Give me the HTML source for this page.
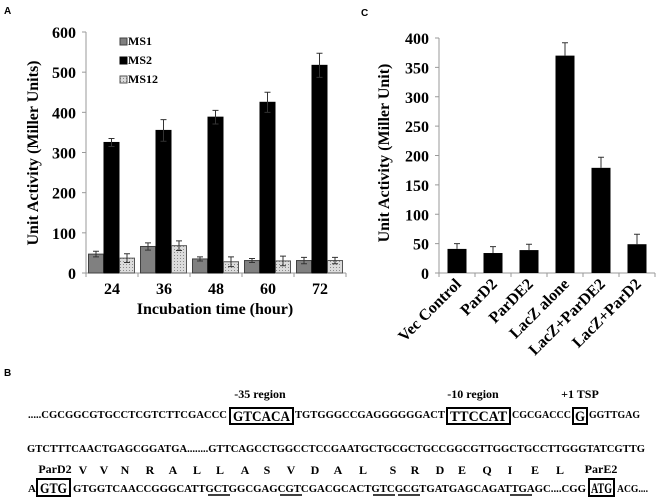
<!DOCTYPE html>
<html><head><meta charset="utf-8"><style>
html,body{margin:0;padding:0;background:#fff;}
svg{display:block;font-family:"Liberation Serif","DejaVu Serif",serif;font-weight:bold;}
.sans{font-family:"Liberation Sans",sans-serif;}
</style></head><body>
<svg id="fig" width="661" height="502" viewBox="0 0 661 502">
<defs>
<pattern id="dots" width="3" height="3" patternUnits="userSpaceOnUse">
<rect width="3" height="3" fill="#dcdcdc"/><rect width="1" height="1" fill="#8a8a8a"/>
</pattern>
</defs>
<text x="4" y="14" class="sans" font-size="10">A</text>
<text x="361" y="16" class="sans" font-size="10">C</text>
<text x="4" y="376" class="sans" font-size="10">B</text>
<g id="chartA" font-family="Liberation Serif, DejaVu Serif, serif"></g>
<g id="chartC" font-family="Liberation Serif, DejaVu Serif, serif"></g>
<g id="seq">
<text x="260" y="398" font-size="12" text-anchor="middle">-35 region</text>
<text x="473" y="398" font-size="12" text-anchor="middle">-10 region</text>
<text x="580" y="398" font-size="12" text-anchor="middle">+1 TSP</text>
<text x="28" y="418" font-size="11" textLength="199" lengthAdjust="spacingAndGlyphs">.....CGCGGCGTGCCTCGTCTTCGACCC</text>
<rect x="230" y="408" width="63" height="16" fill="none" stroke="#000" stroke-width="2"/>
<text x="233" y="421" font-size="15" textLength="57" lengthAdjust="spacingAndGlyphs">GTCACA</text>
<text x="295" y="418" font-size="11" textLength="150" lengthAdjust="spacingAndGlyphs">TGTGGGCCGAGGGGGGACT</text>
<rect x="447" y="408" width="63" height="16" fill="none" stroke="#000" stroke-width="2"/>
<text x="450" y="421" font-size="15" textLength="57" lengthAdjust="spacingAndGlyphs">TTCCAT</text>
<text x="512" y="418" font-size="11" textLength="59" lengthAdjust="spacingAndGlyphs">CGCGACCC</text>
<rect x="573" y="408" width="14" height="16" fill="none" stroke="#000" stroke-width="2"/>
<text x="575" y="421" font-size="15" textLength="10" lengthAdjust="spacingAndGlyphs">G</text>
<text x="589" y="418" font-size="11" textLength="51" lengthAdjust="spacingAndGlyphs">GGTTGAG</text>
<text x="27" y="452" font-size="11" textLength="618" lengthAdjust="spacingAndGlyphs">GTCTTTCAACTGAGCGGATGA........GTTCAGCCTGGCCTCCGAATGCTGCGCTGCCGGCGTTGGCTGCCTTGGGTATCGTTG</text>
<text x="55" y="473" font-size="12" text-anchor="middle">ParD2</text>
<text x="601" y="473" font-size="12" text-anchor="middle">ParE2</text>
<g id="aa"></g>
<text x="28" y="492" font-size="11">A</text>
<rect x="37" y="479" width="33" height="17" fill="none" stroke="#000" stroke-width="2"/>
<text x="40" y="493" font-size="15" textLength="27" lengthAdjust="spacingAndGlyphs">GTG</text>
<text x="73" y="492" font-size="11" textLength="513" lengthAdjust="spacingAndGlyphs">GTGGTCAACCGGGCATTGCTGGCGAGCGTCGACGCACTGTCGCGTGATGAGCAGATTGAGC....CGG</text>
<rect x="589" y="479" width="25" height="17" fill="none" stroke="#000" stroke-width="2"/>
<text x="591" y="493" font-size="15" textLength="21" lengthAdjust="spacingAndGlyphs">ATG</text>
<text x="617" y="492" font-size="11" textLength="31" lengthAdjust="spacingAndGlyphs">ACG....</text>
<g stroke="#000" stroke-width="1.5">
<line x1="208" y1="495" x2="230" y2="495"/><line x1="280" y1="495" x2="302" y2="495"/>
<line x1="373" y1="495" x2="395" y2="495"/><line x1="398" y1="495" x2="420" y2="495"/>
<line x1="510" y1="495" x2="532" y2="495"/>
</g>
</g>
</svg>
<script>
const NS="http://www.w3.org/2000/svg";
function mk(p,t,a,txt){const e=document.createElementNS(NS,t);for(const k in a)e.setAttribute(k,a[k]);if(txt!=null)e.textContent=txt;p.appendChild(e);return e;}

// Chart A data
const catsA=["24","36","48","60","72"];
const ms1=[47,66,35,31,31];
const ms1Err=[7,9,5,5,8];
const ms2=[325,355,388,425,517];
const ms2Err=[10,27,17,25,30];
const ms12=[37,68,28,30,31];
const ms12Err=[11,12,12,12,8];
const ticksA=[0,100,200,300,400,500,600];

// Chart C data
const catsC=["Vec Control","ParD2","ParDE2","LacZ alone","LacZ+ParDE2","LacZ+ParD2"];
const valsC=[41,34,39,370,179,49];
const errC=[9,11,10,22,18,17];
const ticksC=[0,50,100,150,200,250,300,350,400];

// Amino acids
const aaLetters=["V","V","N","R","A","L","L","A","S","V","D","A","L","S","R","D","E","Q","I","E","L"];

(function(){
const g=document.getElementById('chartA');
const x0=86,gw=52,y0=273,yT=32,max=600;
const y=v=>y0-(y0-yT)*v/max;
mk(g,'line',{x1:x0,y1:yT,x2:x0,y2:y0,stroke:'#999'});
mk(g,'line',{x1:x0,y1:y0,x2:x0+gw*catsA.length,y2:y0,stroke:'#999'});
ticksA.forEach(t=>{
 const l=mk(g,'line',{x1:x0-4,y1:y(t),x2:x0,y2:y(t),stroke:'#999'});
 
 
 const tx=mk(g,'text',{x:76,y:y(t)+6,'font-size':16,'text-anchor':'end'},t);
 
 
});
for(let i=0;i<=catsA.length;i++){mk(g,'line',{x1:x0+gw*i,y1:y0,x2:x0+gw*i,y2:y0+4,stroke:'#999'});}
const series=[[ms1,ms1Err,'#808080','#404040'],[ms2,ms2Err,'#000','#000'],[ms12,ms12Err,'url(#dots)','#555']];
catsA.forEach((c,i)=>{
 const gx=x0+gw*i+2.5;
 series.forEach((s,j)=>{
  const v=s[0][i],e=s[1][i],bx=gx+j*15.5;
  const r=mk(g,'rect',{x:bx,y:y(v),width:15,height:y0-y(v),fill:s[2],stroke:s[3],'stroke-width':1});
  
  
  const cx=bx+7.5;
  mk(g,'path',{d:`M${cx},${y(v+e)}V${y(v-e)}M${cx-3},${y(v+e)}H${cx+3}M${cx-3},${y(v-e)}H${cx+3}`,stroke:'#333','stroke-width':1,fill:'none'});
 });
 const tl=mk(g,'text',{x:x0+gw*i+gw/2,y:294,'font-size':16,'text-anchor':'middle'},c);
 
 
});
const xt=mk(g,'text',{x:215,y:314,'font-size':16,'text-anchor':'middle'},'Incubation time (hour)');


const yt=mk(g,'text',{x:0,y:0,'font-size':16,'text-anchor':'middle',transform:'translate(38,153) rotate(-90)'},'Unit Activity (Miller Units)');


const leg=[['MS1','#808080','#404040'],['MS2','#000','#000'],['MS12','url(#dots)','#555']];
leg.forEach((l,k)=>{
 const ly=38+k*19;
 const r=mk(g,'rect',{x:120,y:ly,width:7,height:7,fill:l[1],stroke:l[2]});
 
 
 const t=mk(g,'text',{x:128,y:ly+7,'font-size':12},l[0]);
 
 
});
})();

(function(){
const g=document.getElementById('chartC');
const x0=439,cw=36,y0=273,yT=38,max=400;
const y=v=>y0-(y0-yT)*v/max;
mk(g,'line',{x1:x0,y1:yT,x2:x0,y2:y0,stroke:'#999'});
mk(g,'line',{x1:x0,y1:y0,x2:x0+cw*catsC.length,y2:y0,stroke:'#999'});
ticksC.forEach(t=>{
 mk(g,'line',{x1:x0-4,y1:y(t),x2:x0,y2:y(t),stroke:'#999'});
 const tx=mk(g,'text',{x:429,y:y(t)+6,'font-size':16,'text-anchor':'end'},t);
 
 
});
for(let i=0;i<=catsC.length;i++){mk(g,'line',{x1:x0+cw*i,y1:y0,x2:x0+cw*i,y2:y0+4,stroke:'#999'});}
catsC.forEach((c,i)=>{
 const cx=x0+cw*i+cw/2,v=valsC[i],e=errC[i];
 const r=mk(g,'rect',{x:cx-9.5,y:y(v),width:19,height:y0-y(v),fill:'#000'});
 
 
 mk(g,'path',{d:`M${cx},${y(v)}V${y(v+e)}M${cx-3},${y(v+e)}H${cx+3}`,stroke:'#333','stroke-width':1,fill:'none'});
 const tl=mk(g,'text',{x:0,y:0,'font-size':16,'text-anchor':'end',transform:`translate(${cx+5},${y0+12}) rotate(-45)`},c);
 
 
});
const yt=mk(g,'text',{x:0,y:0,'font-size':16,'text-anchor':'middle',transform:'translate(389,153) rotate(-90)'},'Unit Activity (Miller Unit)');


})();

(function(){
const g=document.getElementById('aa');
const xs=[83,104,125,150,173,197,220,245,267,291,315,338,363,393,415,440,462,487,510,535,560];
aaLetters.forEach((a,i)=>{
 const t=mk(g,'text',{x:xs[i],y:474,'font-size':12,'text-anchor':'middle'},a);
 
 
});
})();
</script>
</body></html>
